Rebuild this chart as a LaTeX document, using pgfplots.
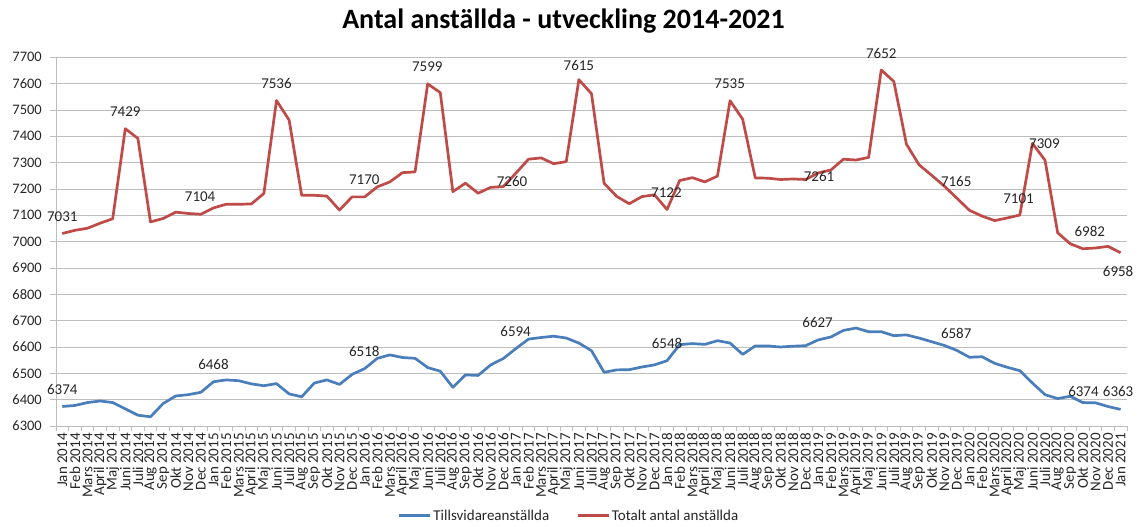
\documentclass[border=0pt]{standalone}
\usepackage{pgfplots}
\usepackage{pgfplotstable}
\pgfplotsset{compat=1.18}
\usepackage{fontspec}
\setmainfont{Carlito}
\definecolor{cblue}{HTML}{4A7EBB}
\definecolor{cred}{HTML}{BE4B48}
\definecolor{cgrid}{HTML}{BDBDBD}
\definecolor{ctext}{HTML}{262626}
\pgfplotstableread{
i blue red
0 6374 7031
1 6378 7043
2 6389 7051
3 6395 7070
4 6389 7087
5 6365 7429
6 6341 7392
7 6335 7075
8 6385 7088
9 6414 7112
10 6419 7107
11 6428 7104
12 6468 7128
13 6475 7142
14 6472 7142
15 6460 7143
16 6453 7183
17 6461 7536
18 6422 7462
19 6411 7176
20 6463 7176
21 6475 7173
22 6458 7120
23 6496 7170
24 6518 7170
25 6557 7208
26 6570 7227
27 6560 7262
28 6557 7265
29 6522 7599
30 6508 7566
31 6447 7190
32 6494 7222
33 6492 7184
34 6532 7206
35 6556 7209
36 6594 7260
37 6630 7313
38 6636 7318
39 6641 7296
40 6634 7304
41 6615 7615
42 6586 7562
43 6504 7222
44 6513 7172
45 6514 7144
46 6524 7171
47 6532 7178
48 6548 7122
49 6609 7232
50 6613 7243
51 6610 7227
52 6624 7249
53 6615 7535
54 6572 7465
55 6604 7242
56 6604 7241
57 6600 7236
58 6603 7238
59 6605 7236
60 6627 7261
61 6638 7272
62 6663 7313
63 6672 7310
64 6658 7320
65 6658 7652
66 6643 7608
67 6646 7370
68 6634 7292
69 6620 7252
70 6606 7211
71 6587 7165
72 6561 7119
73 6563 7097
74 6538 7080
75 6523 7090
76 6510 7101
77 6463 7373
78 6419 7309
79 6404 7034
80 6413 6992
81 6389 6973
82 6388 6976
83 6374 6982
84 6363 6958
}\datatable
\begin{document}
\begin{tikzpicture}
\useasboundingbox (0pt,0pt) rectangle (1141pt,-527pt);
\node[anchor=base, font=\fontsize{28}{30}\selectfont\bfseries, text=black, inner sep=0pt] at (563.5pt,-28.3pt) {Antal anställda - utveckling 2014-2021};
\begin{axis}[
  at={(56pt,-426pt)}, anchor=south west,
  scale only axis, width=1071pt, height=368.7pt,
  xmin=-0.5, xmax=84.5, ymin=6300, ymax=7700,
  ytick={6300,6400,...,7700},
  xtick={0,...,84},
  minor xtick={-0.5,0.5,...,84.5},
  xticklabels={Jan 2014,Feb 2014,Mars 2014,April 2014,Maj 2014,Juni 2014,Juli 2014,Aug 2014,Sep 2014,Okt 2014,Nov 2014,Dec 2014,
    Jan 2015,Feb 2015,Mars 2015,April 2015,Maj 2015,Juni 2015,Juli 2015,Aug 2015,Sep 2015,Okt 2015,Nov 2015,Dec 2015,
    Jan 2016,Feb 2016,Mars 2016,April 2016,Maj 2016,Juni 2016,Juli 2016,Aug 2016,Sep 2016,Okt 2016,Nov 2016,Dec 2016,
    Jan 2017,Feb 2017,Mars 2017,April 2017,Maj 2017,Juni 2017,Juli 2017,Aug 2017,Sep 2017,Okt 2017,Nov 2017,Dec 2017,
    Jan 2018,Feb 2018,Mars 2018,April 2018,Maj 2018,Juni 2018,Juli 2018,Aug 2018,Sep 2018,Okt 2018,Nov 2018,Dec 2018,
    Jan 2019,Feb 2019,Mars 2019,April 2019,Maj 2019,Juni 2019,Juli 2019,Aug 2019,Sep 2019,Okt 2019,Nov 2019,Dec 2019,
    Jan 2020,Feb 2020,Mars 2020,April 2020,Maj 2020,Juni 2020,Juli 2020,Aug 2020,Sep 2020,Okt 2020,Nov 2020,Dec 2020,
    Jan 2021},
  axis x line=bottom, axis y line=left,
  axis line style={-, draw=cgrid, line width=0.8pt},
  tick align=outside,
  major tick length=6pt, minor tick length=5pt,
  x tick style={draw=none},
  minor x tick style={draw=cgrid, line width=0.8pt},
  y tick style={draw=cgrid, line width=0.8pt},
  ymajorgrids, grid style={cgrid, line width=0.8pt},
  /pgf/number format/assume math mode=true,
  /pgf/number format/1000 sep={},
  yticklabel style={font=\fontsize{14.5}{16}\selectfont, text=ctext, inner sep=0pt, xshift=-8pt},
  xticklabel style={font=\fontsize{15}{16}\selectfont, text=ctext, rotate=90, anchor=east, inner sep=1pt},
  legend style={at={(0.479,-0.2433)}, anchor=center, draw=none, fill=none,
    font=\fontsize{15}{17}\selectfont, text=ctext, legend columns=2,
    /tikz/every even column/.append style={column sep=25pt}},
  legend image code/.code={\draw[#1] (0pt,0pt) -- (31pt,0pt);},
  legend cell align=left,
  clip=false,
]
\addplot[cblue, line width=2.7pt, line join=round] table[x=i, y=blue] {\datatable};
\addlegendentry{Tillsvidareanställda}
\addplot[cred, line width=2.7pt, line join=round] table[x=i, y=red] {\datatable};
\addlegendentry{Totalt antal anställda}
\begin{scope}[every node/.style={font=\fontsize{15}{16}\selectfont, text=ctext, inner sep=0pt}]
\node at (axis cs:0,7095) {7031};
\node at (axis cs:5,7493) {7429};
\node at (axis cs:10.94,7170) {7104};
\node at (axis cs:17,7601) {7536};
\node at (axis cs:23.97,7234) {7170};
\node at (axis cs:28.97,7664) {7599};
\node at (axis cs:35.7,7228) {7260};
\node at (axis cs:41,7668) {7615};
\node at (axis cs:47.95,7186) {7122};
\node at (axis cs:52.97,7601) {7535};
\node at (axis cs:60.06,7246) {7261};
\node at (axis cs:65,7715) {7652};
\node at (axis cs:70.95,7230) {7165};
\node at (axis cs:75.9,7164) {7101};
\node at (axis cs:77.95,7373) {7309};
\node at (axis cs:81.55,7040) {6982};
\node at (axis cs:83.8,6888) {6958};
\node at (axis cs:0,6439) {6374};
\node at (axis cs:12,6532) {6468};
\node at (axis cs:23.97,6585) {6518};
\node at (axis cs:35.98,6658) {6594};
\node at (axis cs:48,6614) {6548};
\node at (axis cs:59.95,6692) {6627};
\node at (axis cs:70.95,6652) {6587};
\node at (axis cs:81.05,6430) {6374};
\node at (axis cs:83.8,6430) {6363};
\end{scope}
\end{axis}
\end{tikzpicture}
\end{document}
